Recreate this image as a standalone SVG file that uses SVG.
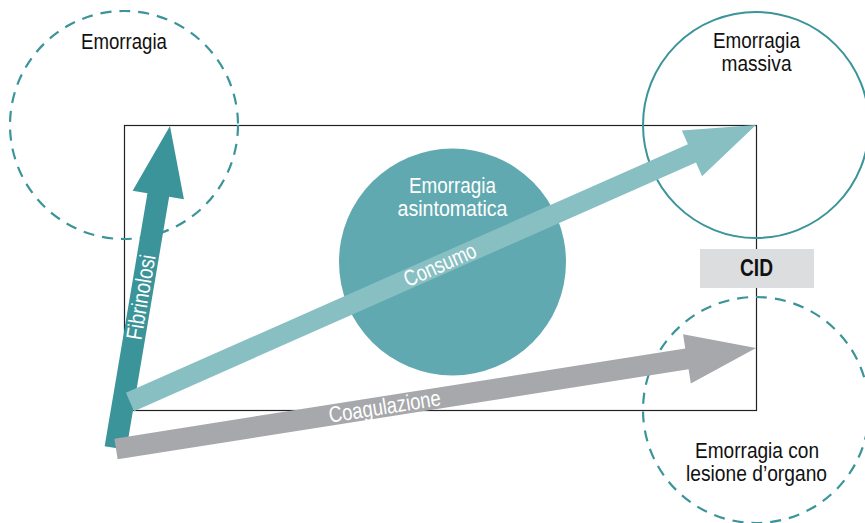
<svg xmlns="http://www.w3.org/2000/svg" width="865" height="523" viewBox="0 0 865 523">
<style>
.lbl{font-family:"Liberation Sans",Arial,sans-serif;font-size:22.5px;text-anchor:middle;fill:#111}
.wl{font-family:"Liberation Sans",Arial,sans-serif;font-size:22.5px;text-anchor:middle;fill:#fff}
.dash{fill:none;stroke:#3a9499;stroke-width:2.2;stroke-dasharray:11 8}
</style>
<rect width="865" height="523" fill="#fff"/>
<g id="frame"><rect x="124.5" y="125.5" width="632" height="285" fill="none" stroke="#222" stroke-width="1.2"/></g>
<g id="node-emorragia"><circle class="dash" cx="124" cy="125" r="114"/><text class="lbl" x="124" y="49" textLength="86" lengthAdjust="spacingAndGlyphs">Emorragia</text></g>
<g id="node-massiva"><circle cx="756" cy="125" r="113" fill="none" stroke="#3a9499" stroke-width="2"/><text class="lbl" x="756.5" y="48" textLength="87" lengthAdjust="spacingAndGlyphs">Emorragia</text><text class="lbl" x="756.5" y="71" textLength="70" lengthAdjust="spacingAndGlyphs">massiva</text></g>
<g id="node-organo"><circle class="dash" cx="756" cy="410" r="113"/><text class="lbl" x="757" y="458" textLength="124" lengthAdjust="spacingAndGlyphs">Emorragia con</text><text class="lbl" x="756.5" y="481" textLength="141" lengthAdjust="spacingAndGlyphs">lesione d’organo</text></g>
<g id="node-asintomatica"><circle cx="452.5" cy="262" r="113.5" fill="#60a9b0"/><text class="wl" x="452.5" y="193" textLength="87" lengthAdjust="spacingAndGlyphs">Emorragia</text><text class="wl" x="452.5" y="216" textLength="110" lengthAdjust="spacingAndGlyphs">asintomatica</text></g>
<g id="node-cid"><rect x="700" y="249" width="114" height="39" fill="#dcdddf"/><text class="lbl" x="756.5" y="276" textLength="33" lengthAdjust="spacingAndGlyphs" style="font-weight:bold;font-size:23px">CID</text></g>
<g id="connectors">
<g transform="translate(115.5,448) rotate(-80.4)"><polygon fill="#3a9499" points="0,-11 256.6,-11 256.6,-26 326.6,0 256.6,26 256.6,11 0,11"/><text class="wl" x="153" y="7.5" textLength="86" lengthAdjust="spacingAndGlyphs">Fibrinolosi</text></g>
<g transform="translate(130,402) rotate(-23.87)"><polygon fill="#88bfc3" points="0,-10 614.5,-10 614.5,-25 684.5,0 614.5,25 614.5,10 0,10"/><text class="wl" x="339" y="7.5" textLength="77" lengthAdjust="spacingAndGlyphs">Consumo</text></g>
<g transform="translate(116,449) rotate(-8.97)"><polygon fill="#a7a8ab" points="0,-10.5 578,-10.5 578,-25 648,0 578,25 578,10.5 0,10.5"/><text class="wl" x="272" y="7.5" textLength="113" lengthAdjust="spacingAndGlyphs">Coagulazione</text></g>
</g>
</svg>
